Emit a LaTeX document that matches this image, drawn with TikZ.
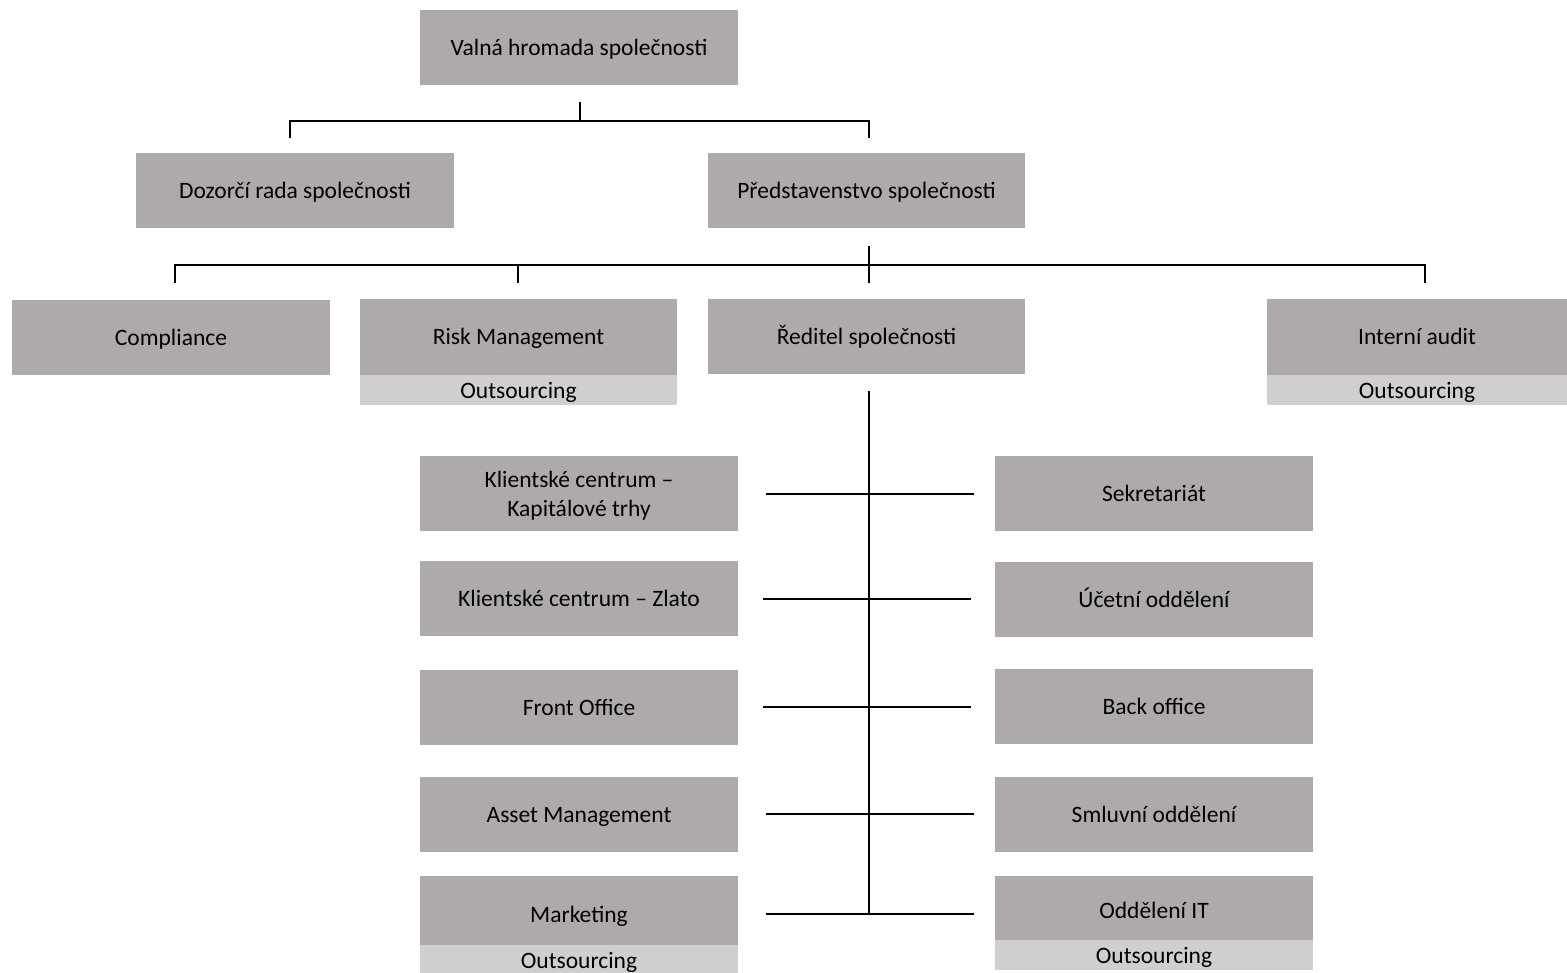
\documentclass[tikz,border=0pt]{standalone}
\usepackage{fontspec}
\setmainfont{Carlito}
\definecolor{boxdark}{HTML}{AEAAAA}
\definecolor{boxlight}{HTML}{D0CECE}
\begin{document}
\begin{tikzpicture}[x=1pt,y=-1pt,
  boxbase/.style={fill=boxdark, draw=none, inner sep=0pt, minimum width=318pt, minimum height=75pt, align=center, font=\fontsize{23.5}{28.5}\selectfont},
  box/.style={boxbase, text height=21pt, text depth=5pt},
  outbox/.style={fill=boxlight, draw=none, inner sep=0pt, minimum width=318pt, minimum height=30pt, align=center, text height=21pt, text depth=5pt, font=\fontsize{23.5}{28.5}\selectfont},
  conn/.style={draw=black, line width=1.3pt}]
\useasboundingbox (0,0) rectangle (1567,973);
% top level
\node[box] (v) at (579,47.5) {Valná hromada společnosti};
\node[box] (d) at (295,190.5) {Dozorčí rada společnosti};
\node[box, minimum width=317pt] (p) at (866.5,190.5) {Představenstvo společnosti};
% third level
\node[box] (c) at (171,337.5) {Compliance};
\node[box, minimum width=317pt, minimum height=76pt] (r) at (518.5,337) {Risk Management};
\node[outbox, minimum width=317pt, anchor=north] (ro) at (r.south) {Outsourcing};
\node[box, minimum width=317pt] (e) at (866.5,336.5) {Ředitel společnosti};
\node[box, minimum width=300pt, minimum height=76pt] (i) at (1417,337) {Interní audit};
\node[outbox, minimum width=300pt, anchor=north] (io) at (i.south) {Outsourcing};
% left column
\node[boxbase] (k1) at (579,493.5) {\raisebox{0pt}[\dimexpr\height+6pt\relax]{\begin{tabular}{@{}c@{}}Klientské centrum –\\Kapitálové trhy\end{tabular}}};
\node[box] (k2) at (579,598.5) {Klientské centrum – Zlato};
\node[box] (f) at (579,707.5) {Front Office};
\node[box] (a) at (579,814.5) {Asset Management};
\node[box, minimum height=69pt, text height=26pt, text depth=2pt] (m) at (579,910.5) {Marketing};
\node[outbox, minimum height=30pt, anchor=north] (mo) at (m.south) {Outsourcing};
% right column
\node[box] (s) at (1154,493.5) {Sekretariát};
\node[box] (u) at (1154,599.5) {Účetní oddělení};
\node[box] (b) at (1154,706.5) {Back office};
\node[box] (sm) at (1154,814.5) {Smluvní oddělení};
\node[box, minimum height=64pt, text height=23pt, text depth=2pt] (it) at (1154,908) {Oddělení IT};
\node[outbox, minimum height=30pt, anchor=north] (ito) at (it.south) {Outsourcing};
% connectors top
\coordinate (t0) at (580,102);
\coordinate (t1) at (580,121);
\coordinate (tl) at (290,138);
\coordinate (tr) at (869,138);
\draw[conn] (t0) -- (t1);
\draw[conn] (tl) |- (t1) -| (tr);
% connectors second level
\coordinate (q0) at (869,246);
\coordinate (q1) at (869,283);
\coordinate (qa) at (175,283);
\coordinate (qb) at (518,283);
\coordinate (qc) at (1425,283);
\coordinate (qh) at (869,265);
\draw[conn] (q0) -- (q1);
\draw[conn] (qa) |- (qh) -| (qc);
\draw[conn] (qb) -- (qb |- qh);
% central spine
\coordinate (sp0) at (869,391);
\coordinate (sp1) at (869,914);
\draw[conn] (sp0) -- (sp1);
\coordinate (h1l) at (766,494); \coordinate (h1r) at (974,494);
\coordinate (h2l) at (763,599); \coordinate (h2r) at (971,599);
\coordinate (h3l) at (763,707); \coordinate (h3r) at (971,707);
\coordinate (h4l) at (766,814); \coordinate (h4r) at (974,814);
\coordinate (h5l) at (766,914); \coordinate (h5r) at (974,914);
\draw[conn] (h1l) -- (h1r);
\draw[conn] (h2l) -- (h2r);
\draw[conn] (h3l) -- (h3r);
\draw[conn] (h4l) -- (h4r);
\draw[conn] (h5l) -- (h5r);
\end{tikzpicture}
\end{document}
